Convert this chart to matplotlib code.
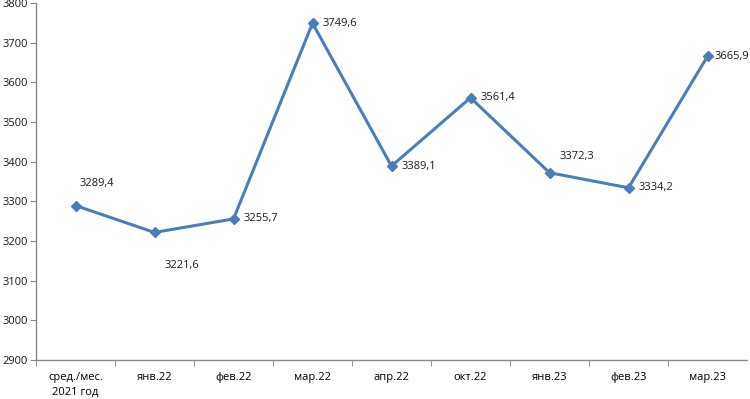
import matplotlib
matplotlib.use("Agg")
import matplotlib.pyplot as plt

categories = ["сред./мес.\n2021 год", "янв.22", "фев.22", "мар.22", "апр.22",
              "окт.22", "янв.23", "фев.23", "мар.23"]
values = [3289.4, 3221.6, 3255.7, 3749.6, 3389.1, 3561.4, 3372.3, 3334.2, 3665.9]
value_labels = ["3289,4", "3221,6", "3255,7", "3749,6", "3389,1",
                "3561,4", "3372,3", "3334,2", "3665,9"]
# label placement: (dx, dy, ha, va) in points
label_pos = [(3, 12, "left", "bottom"), (7, -20, "left", "top"), (7, 0, "left", "center"),
             (7, 0, "left", "center"), (7, 0, "left", "center"), (7, 0, "left", "center"),
             (7, 8, "left", "bottom"), (7, 0, "left", "center"), (5, 0, "left", "center")]

plt.rcParams["font.family"] = ["Open Sans", "DejaVu Sans"]

fig = plt.figure(figsize=(7.5, 3.99), dpi=100)
ax = fig.add_axes([0.048, 0.098, 0.948, 0.894])

x = list(range(len(values)))
color = "#4a7ebb"
ax.plot(x, values, color=color, lw=2.2, marker="D", ms=5, mfc=color, mec=color)

for xi, v, lab, (dx, dy, ha, va) in zip(x, values, value_labels, label_pos):
    ax.annotate(lab, (xi, v), xytext=(dx, dy), textcoords="offset points",
                ha=ha, va=va, fontsize=8, color="#1a1a1a", annotation_clip=False)

ax.set_xlim(-0.5, len(values) - 0.5)
ax.set_ylim(2900, 3800)
ax.set_yticks(range(2900, 3801, 100))
ax.set_xticks(x)
ax.set_xticklabels(categories, fontsize=8, linespacing=1.4)
ax.set_xticks([i + 0.5 for i in x[:-1]] + [-0.5], minor=True)
ax.tick_params(axis="x", which="major", length=0, pad=9)
ax.tick_params(axis="x", which="minor", length=4, color="#888888", direction="out")
ax.tick_params(axis="y", length=4, color="#888888", labelsize=8, pad=2)
for lab in ax.get_yticklabels():
    lab.set_color("#1a1a1a")
for s in ["top", "right"]:
    ax.spines[s].set_visible(False)
for s in ["left", "bottom"]:
    ax.spines[s].set_color("#888888")
    ax.spines[s].set_linewidth(1)

fig.savefig("out.png", dpi=100)
